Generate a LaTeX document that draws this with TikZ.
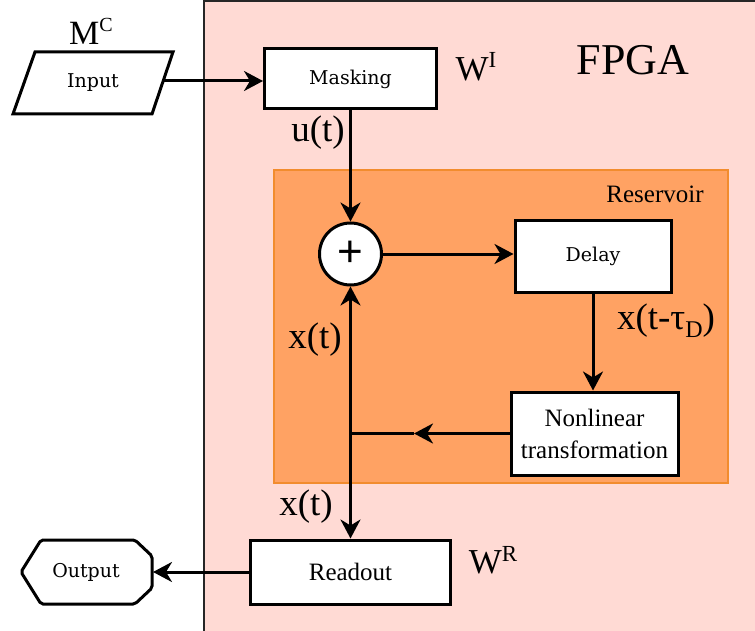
\documentclass[tikz,border=0pt]{standalone}
\usepackage{fontspec}
\setmainfont{Liberation Serif}
\newfontfamily\dvs{DejaVu Serif}
\newfontfamily\lsans{Liberation Sans}
\usetikzlibrary{arrows.meta}
\definecolor{fpgafill}{HTML}{FFDAD4}
\definecolor{resfill}{HTML}{FFA263}
\definecolor{resborder}{HTML}{F28C2E}
\newcommand{\supx}[3]{{\fontsize{#1}{#1}\selectfont\raisebox{#2}{#3}}}
\tikzset{
  box/.style={draw=black, fill=white, line width=3pt, inner sep=0pt},
  arr/.style={line width=3pt, -{Stealth[length=19pt,width=20pt,inset=6pt]}},
  ln/.style={line width=3pt},
  sm/.style={font=\dvs\fontsize{19}{22}\selectfont},
  md/.style={font=\fontsize{25}{32}\selectfont},
  lg/.style={font=\fontsize{37}{40}\selectfont},
}
\begin{document}
\begin{tikzpicture}[x=1pt,y=-1pt]
\useasboundingbox (0,0) rectangle (755,631);
% FPGA region
\fill[fpgafill] (204,1) rectangle (770,650);
\draw[line width=1.5pt, black!85] (204,650) -- (204,1) -- (770,1);
\node[font=\fontsize{44}{44}\selectfont] (fpga) at (633,60) {FPGA};
% Reservoir region
\node[draw=resborder, fill=resfill, line width=1.2pt, minimum width=454pt, minimum height=313pt, inner sep=0pt] (res) at (501,326.5) {};
\node[md] (reslbl) at (655,194) {Reservoir};
% Input
\draw[line width=3pt, fill=white, line join=miter] (13,114) -- (152,114) -- (173,52) -- (35,52) -- cycle;
\node[sm] (inp) at (93,83) {Input};
\coordinate (inpR) at (163,81);
\node[font=\fontsize{34}{34}\selectfont] (mc) at (91,31) {M\supx{20}{13pt}{C}};
% Masking
\node[box, sm, minimum width=172pt, minimum height=60pt] (mask) at (350.5,79) {Masking};
\node[font=\fontsize{35}{35}\selectfont] (wi) at (476,67) {W\supx{23}{13pt}{I}};
% Sum
\node[box, circle, minimum size=62pt, font=\lsans\fontsize{44}{44}\selectfont] (circ) at (350.5,254) {+};
% Delay
\node[box, sm, minimum width=156pt, minimum height=71pt] (delay) at (593,256.5) {Delay};
% Nonlinear
\node[box, md, align=center, minimum width=167pt, minimum height=83pt] (nl) at (594.5,433.5) {Nonlinear\\transformation};
% Readout
\node[box, md, minimum width=200pt, minimum height=64pt] (read) at (350.5,572) {Readout};
\node[font=\fontsize{35}{35}\selectfont] (wr) at (493,560) {W\supx{23}{12pt}{R}};
% Output
\draw[line width=3pt, fill=white, rounded corners=2pt] (21,572) -- (41,540) -- (135,540) -- (152,556) -- (152,588) -- (135,604) -- (41,604) -- cycle;
\node[sm] (outp) at (86,572) {Output};
\coordinate (outR) at (153,572);
% coordinates
\coordinate (junc) at (350.5,433.5);
\coordinate (midnl) at (414,433.5);
% connectors
\draw[arr] (inpR) -- (inpR -| mask.west);
\draw[arr] (mask.south) -- (circ.north);
\draw[arr] (circ.east) -- (circ.east -| delay.west);
\draw[arr] (delay.south) -- (delay.south |- nl.north);
\draw[arr] (nl.west) -- (midnl);
\draw[ln] (midnl) -- (junc);
\draw[arr] (junc) -- (circ.south);
\draw[arr] (junc) -- (read.north);
\draw[arr] (read.west) -- (outR);
% labels
\node[lg] (ut) at (318,133) {u(t)};
\node[lg] (xt1) at (315,340) {x(t)};
\node[lg] (xt2) at (306,507) {x(t)};
\node[lg] (xtd) at (666,321) {x(t-τ\supx{24}{-8pt}{D})};
\end{tikzpicture}
\end{document}
